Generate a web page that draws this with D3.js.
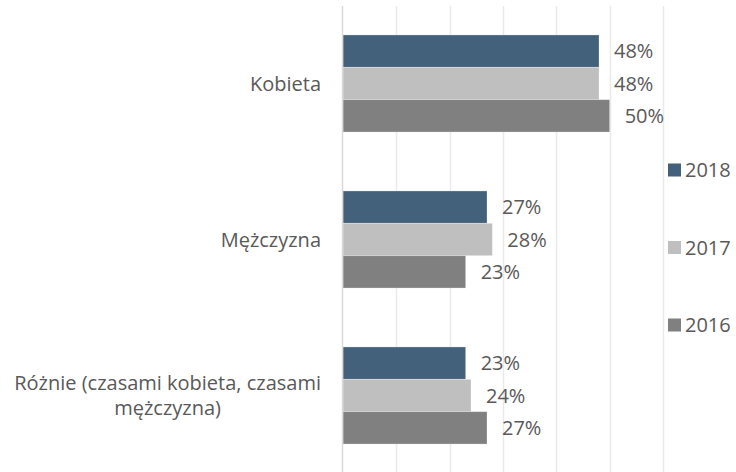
<!DOCTYPE html>
<html>
<head>
<meta charset="utf-8">
<script src="https://cdn.jsdelivr.net/npm/d3@7"></script>
<style>
  body { margin: 0; background: #fff; }
  text { font-family: "Segoe UI", "Open Sans", "Noto Sans", sans-serif; fill: #595959; }
</style>
</head>
<body>
<div id="chart"></div>
<script>
const categories = ["Kobieta", "Mężczyzna", "Różnie (czasami kobieta, czasami mężczyzna)"]
const categoryLines = [["Kobieta"], ["Mężczyzna"], ["Różnie (czasami kobieta, czasami", "mężczyzna)"]]
const seriesNames = ["2018", "2017", "2016"]
const values2018 = [0.48, 0.27, 0.23]
const values2017 = [0.48, 0.28, 0.24]
const values2016 = [0.50, 0.23, 0.27]
const gridTicks = [0, 0.1, 0.2, 0.3, 0.4, 0.5, 0.6]

const colors = {"2018": "#44617b", "2017": "#bfbfbf", "2016": "#808080"}
const seriesValues = {"2018": values2018, "2017": values2017, "2016": values2016}

const dims = {
  width: 736,
  height: 472,
  plot: {left: 343, right: 663, top: 5.5, bottom: 473.5},
  labelRight: 321,
  fontSize: 20,
  legend: {x: 668, y: 170, step: 77.5, square: 13},
}

const svg = d3.select("#chart").append("svg")
  .attr("width", dims.width)
  .attr("height", dims.height)

const x = d3.scaleLinear()
  .domain([0, 0.6])
  .range([dims.plot.left, dims.plot.right])

const y0 = d3.scaleBand()
  .domain(categories)
  .range([dims.plot.top, dims.plot.bottom])

const y1 = d3.scaleBand()
  .domain(seriesNames)
  .range([0, y0.bandwidth()])
  .paddingOuter(0.91)

// gridlines
svg.append("g").selectAll("line")
  .data(gridTicks.slice(1))
  .join("line")
  .attr("x1", d => Math.round(x(d)) + 0.5)
  .attr("x2", d => Math.round(x(d)) + 0.5)
  .attr("y1", 6)
  .attr("y2", dims.height)
  .attr("stroke", "#e9e9e9")
  .attr("stroke-width", 1.5)

// bars
const rows = categories.map((c, i) => ({
  category: c,
  bars: seriesNames.map(s => ({series: s, value: seriesValues[s][i]}))
}))

const groups = svg.append("g").selectAll("g")
  .data(rows)
  .join("g")
  .attr("transform", d => `translate(0,${y0(d.category)})`)

groups.selectAll("rect")
  .data(d => d.bars)
  .join("rect")
  .attr("x", x(0))
  .attr("y", d => y1(d.series))
  .attr("width", d => x(d.value) - x(0))
  .attr("height", y1.bandwidth())
  .attr("fill", d => colors[d.series])
  .attr("stroke", "#ffffff")
  .attr("stroke-opacity", 0.35)
  .attr("stroke-width", 0.8)

groups.selectAll("text.value")
  .data(d => d.bars)
  .join("text")
  .attr("class", "value")
  .attr("x", d => x(d.value) + 15)
  .attr("y", d => y1(d.series) + y1.bandwidth() / 2)
  .attr("dy", "0.35em")
  .attr("font-size", dims.fontSize)
  .text(d => d3.format(".0%")(d.value))

// vertical axis line
svg.append("line")
  .attr("x1", x(0) - 0.5)
  .attr("x2", x(0) - 0.5)
  .attr("y1", 6)
  .attr("y2", dims.height)
  .attr("stroke", "#d9d9d9")
  .attr("stroke-width", 1.5)

// category labels, lines centered within a right-aligned block
categories.forEach((c, i) => {
  const lines = categoryLines[i]
  const g = svg.append("g")
  const texts = g.selectAll("text")
    .data(lines)
    .join("text")
    .attr("font-size", dims.fontSize)
    .attr("text-anchor", "middle")
    .text(d => d)
  const widths = texts.nodes().map(n => n.getComputedTextLength())
  const maxW = d3.max(widths)
  const lineH = 25
  const cy = y0(c) + y0.bandwidth() / 2
  texts
    .attr("x", dims.labelRight - maxW / 2)
    .attr("y", (d, j) => cy + (j - (lines.length - 1) / 2) * lineH)
    .attr("dy", "0.35em")
})

// legend
const legend = svg.append("g")
  .attr("transform", `translate(${dims.legend.x},${dims.legend.y})`)
const items = legend.selectAll("g")
  .data(seriesNames)
  .join("g")
  .attr("transform", (d, i) => `translate(0,${i * dims.legend.step})`)
items.append("rect")
  .attr("x", 0)
  .attr("y", -dims.legend.square / 2)
  .attr("width", dims.legend.square)
  .attr("height", dims.legend.square)
  .attr("fill", d => colors[d])
items.append("text")
  .attr("x", 17)
  .attr("dy", "0.35em")
  .attr("font-size", dims.fontSize)
  .text(d => d)
</script>
</body>
</html>
